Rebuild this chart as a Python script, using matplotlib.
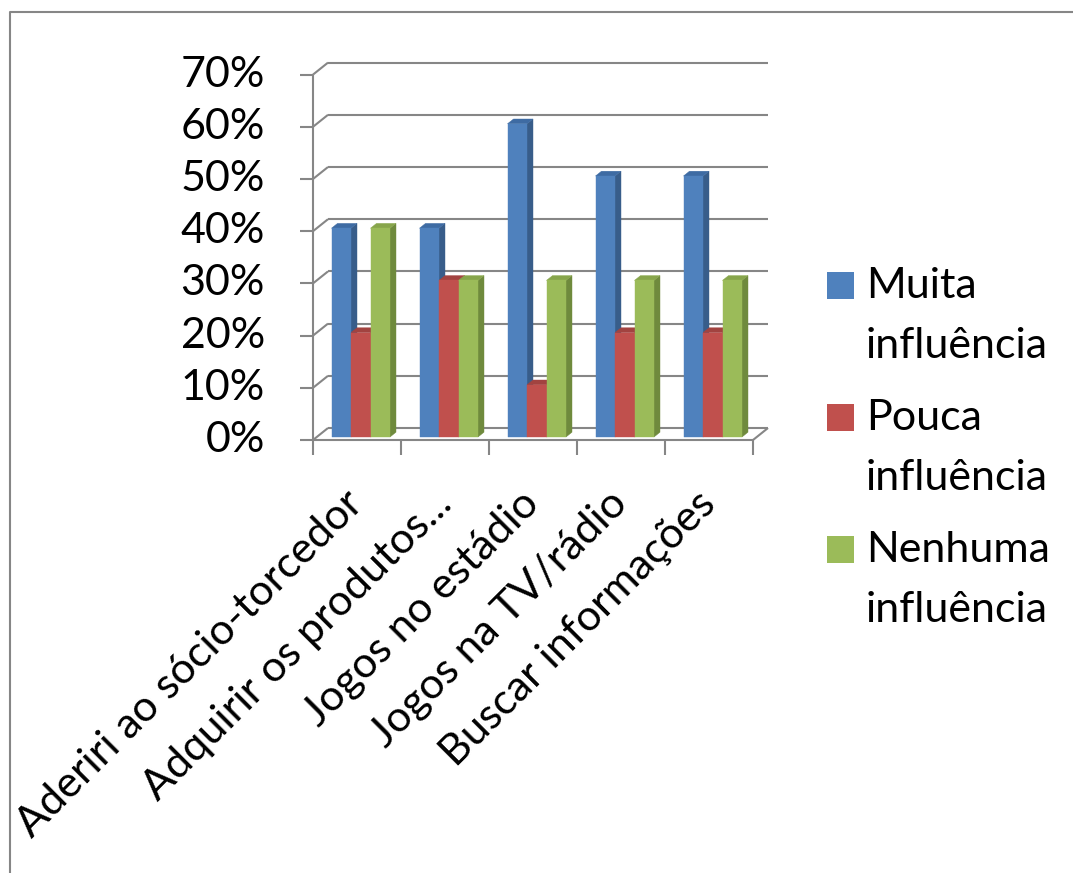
import matplotlib
matplotlib.use("Agg")
import matplotlib.pyplot as plt
from matplotlib.patches import Polygon, Rectangle
from matplotlib.lines import Line2D

# chart data
categories = ["Aderiri ao sócio-torcedor", "Adquirir os produtos...", "Jogos no estádio",
              "Jogos na TV/rádio", "Buscar informações"]
muita = [40, 40, 60, 50, 50]
pouca = [20, 30, 10, 20, 20]
nenhuma = [40, 30, 30, 30, 30]
series_labels = ["Muita", "Pouca", "Nenhuma"]
y_ticks = [0, 10, 20, 30, 40, 50, 60, 70]
y_tick_labels = ["0%", "10%", "20%", "30%", "40%", "50%", "60%", "70%"]

# colours: front, side, top
face_colors = [("#4F81BD", "#385D8A", "#3E6BA3"),
               ("#C0504D", "#8C3A38", "#A24340"),
               ("#9BBB59", "#6F8A3D", "#87A54B")]
grid_color = "#868686"
FONT = "Lato"

W, H = 1073, 873
PX_X = 88.0          # pixels per category
PX_Y = 5.22          # pixels per percent
DX = 15 / PX_X       # depth offset in data units
DY = 12 / PX_Y
F0, F1 = 0.25, 0.65  # bar depth span
BW = 19.5 / PX_X     # bar width
GAP = (1 - 3 * BW) / 2

fig = plt.figure(figsize=(W / 100, H / 100), dpi=100)
ax = fig.add_axes([313 / W, (H - 440) / H, 5 * PX_X / W, 70 * PX_Y / H])
ax.set_xlim(0, 5)
ax.set_ylim(0, 70)
ax.axis("off")

line_kw = dict(color=grid_color, lw=1.5, clip_on=False, solid_capstyle="butt")

# back wall gridlines + left wall connectors + y ticks
for v in y_ticks:
    ax.plot([DX, 5 + DX], [v + DY, v + DY], zorder=1, **line_kw)
    ax.plot([0, DX], [v, v + DY], zorder=1, **line_kw)
    ax.plot([-13 / PX_X, 0], [v, v], zorder=1, **line_kw)
ax.plot([0, 0], [0, 70], zorder=1, **line_kw)
for v, lab in zip(y_ticks, y_tick_labels):
    ax.text(-48 / PX_X, v, lab, ha="right", va="center", fontsize=31,
            family=FONT, clip_on=False)

# floor
ax.plot([0, 5], [0, 0], zorder=1, **line_kw)
ax.plot([5, 5 + DX], [0, DY], zorder=1, **line_kw)
for i in range(6):
    ax.plot([i, i], [0, -15 / PX_Y], zorder=1, **line_kw)

# bars
series = [muita, pouca, nenhuma]
z = 3.0
for i in range(len(categories)):
    for j, vals in enumerate(series):
        h = vals[i]
        fc, sc, tc = face_colors[j]
        x0 = i + GAP + j * BW
        x1 = x0 + BW
        ox0, oy0 = F0 * DX, F0 * DY
        ox1, oy1 = F1 * DX, F1 * DY
        side = [(x1 + ox0, oy0), (x1 + ox1, oy1), (x1 + ox1, h + oy1), (x1 + ox0, h + oy0)]
        top = [(x0 + ox0, h + oy0), (x1 + ox0, h + oy0), (x1 + ox1, h + oy1), (x0 + ox1, h + oy1)]
        front = [(x0 + ox0, oy0), (x1 + ox0, oy0), (x1 + ox0, h + oy0), (x0 + ox0, h + oy0)]
        for poly, c in ((side, sc), (top, tc), (front, fc)):
            ax.add_patch(Polygon(poly, closed=True, facecolor=c, edgecolor=c,
                                 lw=0.3, zorder=z, clip_on=False))
            z += 0.001

# category labels
for i, lab in enumerate(categories):
    ax.text(i + 0.5, -11, lab, rotation=45, rotation_mode="anchor",
            ha="right", va="center", fontsize=31, family=FONT, clip_on=False)

# legend
sq_tops = [272, 404, 536]
baselines = [298, 430, 562]
for j, name in enumerate(series_labels):
    fig.add_artist(Rectangle((827 / W, 1 - (sq_tops[j] + 27) / H), 27 / W, 27 / H,
                             transform=fig.transFigure, facecolor=face_colors[j][0],
                             edgecolor="none"))
    fig.text(866 / W, 1 - baselines[j] / H, name, ha="left", va="baseline",
             fontsize=31, family=FONT)
    fig.text(866 / W, 1 - (baselines[j] + 60) / H, "influência", ha="left",
             va="baseline", fontsize=31, family=FONT)

# chart frame
fig.add_artist(Line2D([10 / W, 10 / W, 1.01], [-0.01, 1 - 12 / H, 1 - 12 / H],
                      transform=fig.transFigure, color=grid_color, lw=1.5))

fig.savefig("out.png", dpi=100)
